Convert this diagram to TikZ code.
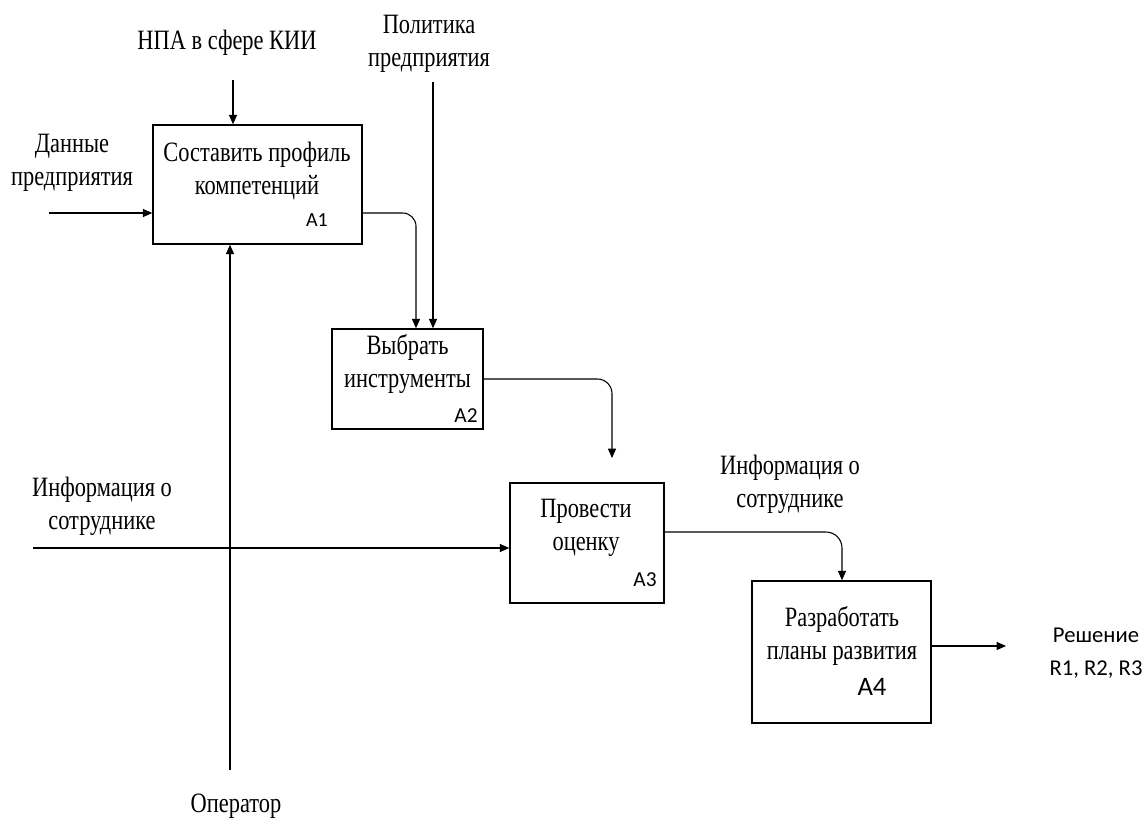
\documentclass[tikz,border=0pt]{standalone}
\usepackage{fontspec}
\usetikzlibrary{arrows.meta}
\newfontfamily\tnr[FakeStretch=0.8]{Liberation Serif}
\newfontfamily\calfont{Carlito}
\begin{document}
\begin{tikzpicture}[x=0.75pt,y=-0.75pt,
  box/.style={draw,line width=1.1pt,inner sep=0pt},
  lbl/.style={font=\tnr\fontsize{21}{24.5}\selectfont,align=center,inner sep=0pt},
  alab/.style={font=\calfont\fontsize{15}{17}\selectfont,inner sep=0pt},
  conn/.style={line width=0.8pt,-{Triangle[length=7pt,width=6pt]}},
  line/.style={line width=0.8pt}]
\useasboundingbox (0,0) rectangle (1144,818);
% boxes
\node[box,minimum width=156.75pt,minimum height=89.25pt] (A1) at (257.5,184.5) {};
\node[box,minimum width=113.25pt,minimum height=75pt] (A2) at (407.5,379) {};
\node[box,minimum width=115.5pt,minimum height=90pt] (A3) at (587,543) {};
\node[box,minimum width=134.25pt,minimum height=106.5pt] (A4) at (841.5,652) {};
% box texts
\node[lbl] (t1) at (257,171) {Составить профиль\\компетенций};
\node[alab] (l1) at (317,220) {A1};
\node[lbl] (t2) at (407.5,364) {Выбрать\\инструменты};
\node[alab,font=\calfont\fontsize{16}{18}\selectfont] (l2) at (466,416) {A2};
\node[lbl] (t3) at (586,528) {Провести\\оценку};
\node[alab,font=\calfont\fontsize{16}{18}\selectfont] (l3) at (645,580) {A3};
\node[lbl] (t4) at (842,636) {Разработать\\планы развития};
\node[alab,font=\calfont\fontsize{20}{22}\selectfont] (l4) at (872,687) {A4};
% outer labels
\node[lbl] (npa) at (227,43) {НПА в сфере КИИ};
\node[lbl] (pol) at (429,44) {Политика\\предприятия};
\node[lbl] (dan) at (72,163) {Данные\\предприятия};
\node[lbl] (inf1) at (102,506) {Информация о\\сотруднике};
\node[lbl] (inf2) at (790,484) {Информация о\\сотруднике};
\node[lbl] (op) at (236,806) {Оператор};
\node[font=\calfont\fontsize{17}{24.5}\selectfont,align=center,inner sep=0pt] (res) at (1096,653) {Решение\\R1, R2, R3};
% coordinates
\coordinate (npaS) at (233,80);
\coordinate (polS) at (433,82);
\coordinate (danS) at (49,213);
\coordinate (opS) at (230,770);
\coordinate (infS) at (33,548);
\coordinate (o1) at (362,213);
\coordinate (v1) at (416,0);
\coordinate (t2end) at (612,458);
\coordinate (o3) at (664,532);
\coordinate (v3) at (842,0);
\coordinate (o4) at (931,646);
\coordinate (resE) at (1006,646);
% connectors
\draw[conn] (npaS) -- (npaS |- A1.north);
\draw[conn] (danS) -- (danS -| A1.west);
\draw[conn] (opS) -- (opS |- A1.south);
\draw[conn] (polS) -- (polS |- A2.north);
\draw[conn,rounded corners=10pt] (o1) -| (v1 |- A2.north);
\draw[conn,rounded corners=11pt] (A2.east) -| (t2end);
\draw[conn] (infS) -- (infS -| A3.west);
\draw[conn,rounded corners=12pt] (o3) -| (v3 |- A4.north);
\draw[conn] (o4) -- (resE);
\end{tikzpicture}
\end{document}
